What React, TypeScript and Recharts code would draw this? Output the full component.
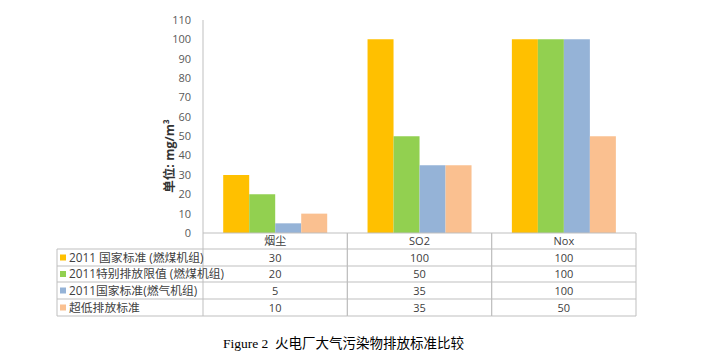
import { BarChart, Bar, XAxis, YAxis } from 'recharts';

const categories = ['烟尘', 'SO2', 'Nox'];
const seriesNames = ['2011 国家标准 (燃煤机组)', '2011特别排放限值 (燃煤机组)', '2011国家标准(燃气机组)', '超低排放标准'];
const coalStd = [30, 100, 100];
const coalSpecial = [20, 50, 100];
const gasStd = [5, 35, 100];
const ultraLow = [10, 35, 50];
const yTicks = [0, 10, 20, 30, 40, 50, 60, 70, 80, 90, 100, 110];

const colors = ['#FFC000', '#92D050', '#95B3D7', '#FAC090'];
const seriesValues = [coalStd, coalSpecial, gasStd, ultraLow];
const keys = ['s0', 's1', 's2', 's3'];

const data = categories.map((c, i) => ({
  name: c,
  s0: coalStd[i],
  s1: coalSpecial[i],
  s2: gasStd[i],
  s3: ultraLow[i],
}));

const W = 720;
const H = 358;
const M = { top: 20, right: 84, bottom: 42, left: 143 };
const Y_AXIS_W = 60;
const plotLeft = M.left + Y_AXIS_W;
const plotRight = W - M.right;
const colW = (plotRight - plotLeft) / categories.length;
const tableLeft = 57;
const rowLines = [249, 266, 282, 299, 316];
const font = '"Open Sans", "Noto Sans CJK SC", sans-serif';
const lineColor = '#BFBFBF';
const textColor = '#404040';

const TableTick = (props: any) => {
  const { payload } = props;
  const idx = payload.index;
  const cx = payload.coordinate;
  const top = M.top + (H - M.top - M.bottom - 83);
  const l = cx - colW / 2;
  const r = cx + colW / 2;
  return (
    <g>
      <line x1={l} x2={l} y1={top} y2={rowLines[4]} stroke={lineColor} />
      <line x1={r} x2={r} y1={top} y2={rowLines[4]} stroke={lineColor} />
      {rowLines.map((y) => (
        <line key={y} x1={idx === 0 ? tableLeft : l} x2={r} y1={y} y2={y} stroke={lineColor} />
      ))}
      {idx === 0 && <line x1={tableLeft} x2={tableLeft} y1={rowLines[0]} y2={rowLines[4]} stroke={lineColor} />}
      <text x={cx} y={(top + rowLines[0]) / 2} dy={4} textAnchor="middle" fontSize={11} fill={textColor} fontFamily={font}>
        {payload.value}
      </text>
      {seriesValues.map((vals, s) => (
        <text key={s} x={cx} y={(rowLines[s] + rowLines[s + 1]) / 2} dy={4} textAnchor="middle" fontSize={11} fill={textColor} fontFamily={font}>
          {vals[idx]}
        </text>
      ))}
      {idx === 0 &&
        seriesNames.map((n, s) => {
          const cy = (rowLines[s] + rowLines[s + 1]) / 2;
          return (
            <g key={n}>
              <rect x={tableLeft + 3} y={cy - 3} width={6} height={6} fill={colors[s]} />
              <text x={tableLeft + 12} y={cy} dy={4} fontSize={11.8} fill={textColor} fontFamily={font}>
                {n}
              </text>
            </g>
          );
        })}
    </g>
  );
};

const YLabel = () => (
  <text
    x={170}
    y={156}
    transform="rotate(-90, 170, 156)"
    textAnchor="middle"
    dy={4}
    fontSize={12.5}
    fontWeight="bold"
    fill="#333"
    fontFamily={font}
  >
    单位: mg/m³
  </text>
);

export default function App() {
  return (
    <div style={{ position: 'absolute', left: 0, top: 0, width: W, height: H, background: '#fff' }}>
      <BarChart width={W} height={H} data={data} margin={M} barCategoryGap="14%" barGap={0}>
        <YAxis
          width={Y_AXIS_W}
          domain={[0, 110]}
          ticks={yTicks}
          interval={0}
          tickLine={false}
          axisLine={{ stroke: lineColor }}
          tick={{ fontSize: 11, fill: '#595959', fontFamily: font }}
          tickMargin={6}
          label={<YLabel />}
        />
        <XAxis
          dataKey="name"
          height={83}
          tickLine={false}
          axisLine={{ stroke: lineColor }}
          tick={<TableTick />}
          interval={0}
        />
        {keys.map((k, i) => (
          <Bar key={k} dataKey={k} fill={colors[i]} isAnimationActive={false} />
        ))}
      </BarChart>
      <div
        style={{
          position: 'absolute',
          left: 223,
          top: 332,
          whiteSpace: 'nowrap',
          fontSize: 13.5,
          fontFamily: '"Liberation Serif", "Noto Sans CJK SC", serif',
          color: '#000',
        }}
      >
        Figure 2&nbsp;&nbsp;火电厂大气污染物排放标准比较
      </div>
    </div>
  );
}
